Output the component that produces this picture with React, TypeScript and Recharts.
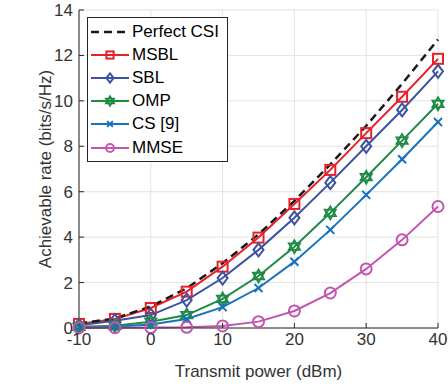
import { LineChart, Line, XAxis, YAxis, CartesianGrid } from "recharts";

const powers = [-10, -5, 0, 5, 10, 15, 20, 25, 30, 35, 40];
const perfectCsi = [0.2, 0.42, 0.95, 1.75, 2.85, 4.12, 5.6, 7.2, 8.9, 10.75, 12.7];
const msbl = [0.18, 0.4, 0.88, 1.6, 2.7, 3.98, 5.46, 6.96, 8.58, 10.18, 11.85];
const sbl = [0.12, 0.32, 0.57, 1.23, 2.2, 3.44, 4.85, 6.4, 8.0, 9.6, 11.3];
const omp = [0.05, 0.1, 0.28, 0.57, 1.28, 2.29, 3.58, 5.07, 6.64, 8.25, 9.87];
const cs9 = [0.02, 0.06, 0.15, 0.4, 0.92, 1.76, 2.92, 4.32, 5.86, 7.43, 9.07];
const mmse = [0.01, 0.01, 0.02, 0.03, 0.09, 0.28, 0.75, 1.54, 2.6, 3.88, 5.35];

const xTicks = [-10, 0, 10, 20, 30, 40];
const yTicks = [0, 2, 4, 6, 8, 10, 12, 14];

const rows = powers.map((p, i) => ({
  p,
  perfect: perfectCsi[i],
  msbl: msbl[i],
  sbl: sbl[i],
  omp: omp[i],
  cs: cs9[i],
  mmse: mmse[i],
}));

type Kind = "none" | "square" | "diamond" | "hexagram" | "x" | "circle";

const SERIES: { key: string; name: string; color: string; marker: Kind; dash?: string }[] = [
  { key: "perfect", name: "Perfect CSI", color: "#1a1a1a", marker: "none", dash: "8 5" },
  { key: "msbl", name: "MSBL", color: "#e8202a", marker: "square" },
  { key: "sbl", name: "SBL", color: "#3d52a1", marker: "diamond" },
  { key: "omp", name: "OMP", color: "#1e8a44", marker: "hexagram" },
  { key: "cs", name: "CS [9]", color: "#1673c0", marker: "x" },
  { key: "mmse", name: "MMSE", color: "#c355b0", marker: "circle" },
];

const FONT = '"Liberation Sans", Arial, Helvetica, sans-serif';
const INK = "#262626";
const FS = 17;

function Marker({ kind, cx, cy, color, s = 1 }: { kind: Kind; cx: number; cy: number; color: string; s?: number }) {
  if (kind === "square")
    return <rect x={cx - 5 * s} y={cy - 5 * s} width={10 * s} height={10 * s} fill="none" stroke={color} strokeWidth={2} />;
  if (kind === "diamond")
    return (
      <polygon
        points={`${cx},${cy - 6.5 * s} ${cx + 5 * s},${cy} ${cx},${cy + 6.5 * s} ${cx - 5 * s},${cy}`}
        fill="none"
        stroke={color}
        strokeWidth={2}
      />
    );
  if (kind === "hexagram") {
    const r = 6.5 * s;
    const tri = (off: number) =>
      [0, 1, 2]
        .map((k) => {
          const a = ((off + k * 120 - 90) * Math.PI) / 180;
          return `${cx + r * Math.cos(a)},${cy + r * Math.sin(a)}`;
        })
        .join(" ");
    return (
      <g fill="none" stroke={color} strokeWidth={1.8}>
        <polygon points={tri(0)} />
        <polygon points={tri(60)} />
      </g>
    );
  }
  if (kind === "x")
    return (
      <g stroke={color} strokeWidth={2}>
        <line x1={cx - 4 * s} y1={cy - 4 * s} x2={cx + 4 * s} y2={cy + 4 * s} />
        <line x1={cx - 4 * s} y1={cy + 4 * s} x2={cx + 4 * s} y2={cy - 4 * s} />
      </g>
    );
  if (kind === "circle") return <circle cx={cx} cy={cy} r={5.5 * s} fill="none" stroke={color} strokeWidth={2} />;
  return null;
}

function LegendBox() {
  return (
    <div
      style={{
        position: "absolute",
        left: 87,
        top: 17,
        border: `1px solid ${INK}`,
        background: "#fff",
        width: 139,
        padding: "2px 0 2px 0",
        fontFamily: FONT,
        fontSize: FS,
        color: "#000",
      }}
    >
      {SERIES.map((s) => (
        <div key={s.key} style={{ display: "flex", alignItems: "center", height: 23.2 }}>
          <svg width={44} height={16} style={{ display: "block" }}>
            <line x1={3} y1={8} x2={41} y2={8} stroke={s.color} strokeWidth={s.dash ? 2.5 : 2} strokeDasharray={s.dash} />
            <Marker kind={s.marker} cx={22} cy={8} color={s.color} s={0.72} />
          </svg>
          <span>{s.name}</span>
        </div>
      ))}
    </div>
  );
}

const hideTick = () => <g />;

export default function App() {
  return (
    <div style={{ position: "absolute", left: 0, top: 0, width: 448, height: 387, background: "#fff" }}>
      <LineChart width={448} height={387} data={rows} margin={{ top: 10, right: 10, left: 0, bottom: 0 }}>
        <CartesianGrid stroke="#e3e3e3" strokeWidth={1} />
        <XAxis
          dataKey="p"
          type="number"
          domain={[-10, 40]}
          ticks={xTicks}
          height={59}
          stroke={INK}
          tickSize={-5}
          tickMargin={10}
          tick={{ fontSize: FS, fill: "#333", fontFamily: FONT }}
          label={{ value: "Transmit power (dBm)", position: "insideBottom", offset: 10, fontSize: FS, fill: "#333", fontFamily: FONT }}
        />
        <XAxis
          xAxisId="top"
          dataKey="p"
          type="number"
          orientation="top"
          domain={[-10, 40]}
          ticks={xTicks}
          height={0}
          mirror
          stroke={INK}
          tickSize={5}
          tick={hideTick}
        />
        <YAxis
          type="number"
          domain={[0, 14]}
          ticks={yTicks}
          width={79}
          stroke={INK}
          tickSize={-5}
          tickMargin={11}
          tick={{ fontSize: FS, fill: "#333", fontFamily: FONT }}
          label={{
            value: "Achievable rate (bits/s/Hz)",
            angle: -90,
            position: "insideLeft",
            offset: 45,
            style: { textAnchor: "middle" },
            fontSize: FS,
            fill: "#333",
            fontFamily: FONT,
          }}
        />
        <YAxis
          yAxisId="right"
          type="number"
          orientation="right"
          domain={[0, 14]}
          ticks={yTicks}
          width={0}
          mirror
          stroke={INK}
          tickSize={5}
          tick={hideTick}
        />
        {SERIES.slice(1).map((s) => (
          <Line
            key={s.key}
            dataKey={s.key}
            name={s.name}
            stroke={s.color}
            strokeWidth={2}
            isAnimationActive={false}
            dot={(props: any) => (
              <Marker key={`${s.key}-${props.index}`} kind={s.marker} cx={props.cx} cy={props.cy} color={s.color} />
            )}
            activeDot={false}
          />
        ))}
        <Line
          dataKey="perfect"
          name="Perfect CSI"
          stroke="#1a1a1a"
          strokeWidth={2.5}
          strokeDasharray="8 5"
          dot={false}
          activeDot={false}
          isAnimationActive={false}
        />
      </LineChart>
      <LegendBox />
    </div>
  );
}
